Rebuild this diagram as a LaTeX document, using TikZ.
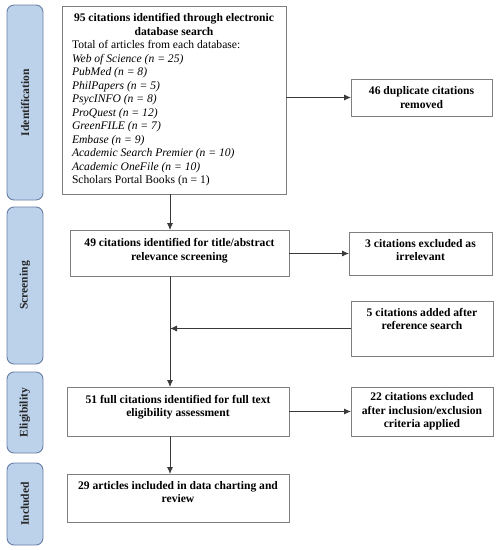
\documentclass[tikz,border=0pt]{standalone}
\usepackage{fontspec}
\setmainfont{Liberation Serif}
\usetikzlibrary{arrows.meta}
\definecolor{barfill}{HTML}{BCD2EB}
\definecolor{barline}{HTML}{6A7FA6}
\definecolor{boxline}{HTML}{7F7F7F}
\definecolor{arrline}{HTML}{3A3A3A}
\begin{document}
\begin{tikzpicture}[x=1pt,y=-1pt,
  every node/.style={font=\fontsize{11.6}{13.5}\selectfont, inner sep=0pt, outer sep=0pt},
  flowbox/.style={draw=boxline, line width=0.9pt, rectangle, align=center, font=\fontsize{11.6}{13.5}\selectfont\bfseries},
  sidebar/.style={draw=barline, fill=barfill, line width=0.9pt, rounded corners=7pt, minimum width=36pt, rotate=90, font=\fontsize{11.6}{13.5}\selectfont\bfseries, text=black!85},
  conn/.style={draw=arrline, line width=0.8pt},
  arr/.style={conn, -{Latex[length=7pt,width=6pt]}}]
\useasboundingbox (0,0) rectangle (496,550);
\fill[white] (0,0) rectangle (496,550);

% side bars
\node[sidebar, minimum width=195pt, minimum height=36pt] (sId) at (25,102.5) {Identification};
\node[sidebar, minimum width=157pt, minimum height=36pt] (sSc) at (25,285.5) {Screening};
\node[sidebar, minimum width=81pt, minimum height=36pt] (sEl) at (25,412.5) {Eligibility};
\node[sidebar, minimum width=82pt, minimum height=36pt] (sIn) at (25,504) {Included};

% main boxes
\node[flowbox, minimum width=224pt, minimum height=188pt, font=\fontsize{11.6}{13.5}\selectfont, align=left] (b1) at (174,100) {%
\makebox[204pt]{\bfseries 95 citations identified through electronic}\\
\makebox[204pt]{\bfseries database search}\\
Total of articles from each database:\\
\textit{Web of Science (n = 25)}\\
\textit{PubMed (n = 8)}\\
\textit{PhilPapers (n = 5)}\\
\textit{PsycINFO (n = 8)}\\
\textit{ProQuest (n = 12)}\\
\textit{GreenFILE (n = 7)}\\
\textit{Embase (n = 9)}\\
\textit{Academic Search Premier (n = 10)}\\
\textit{Academic OneFile (n = 10)}\\
Scholars Portal Books (n = 1)};
\node[flowbox, minimum width=219pt, minimum height=46pt] (b2) at (179.5,253) {49 citations identified for title/abstract\\relevance screening\\[-6.5pt]};
\node[flowbox, minimum width=222pt, minimum height=49pt] (b3) at (178,411.5) {51 full citations identified for full text\\eligibility assessment\\[-2pt]};
\node[flowbox, minimum width=222pt, minimum height=48pt] (b4) at (178,498) {29 articles included in data charting and\\review\\[-1pt]};

% side boxes
\node[flowbox, minimum width=141pt, minimum height=37pt] (dup) at (421.5,97.5) {46 duplicate citations\\removed};
\node[flowbox, minimum width=143pt, minimum height=43pt] (ex1) at (420.5,253.5) {3 citations excluded as\\irrelevant\\[-6.5pt]};
\node[flowbox, minimum width=142pt, minimum height=55pt] (add) at (422,328.5) {5 citations added after\\reference search\\[6pt]};
\node[flowbox, minimum width=142pt, minimum height=49pt] (ex2) at (422,411.5) {22 citations excluded\\after inclusion/exclusion\\criteria applied};

% spine
\coordinate (sp) at (170,0);

% connectors
\draw[arr] (b1.south -| sp) -- (b2.north -| sp);
\draw[arr] (b2.south -| sp) -- (b3.north -| sp);
\draw[arr] (b3.south -| sp) -- (b4.north -| sp);
\draw[arr] (b1.east |- dup.west) -- (dup.west);
\draw[arr] (b2.east |- ex1.west) -- (ex1.west);
\draw[arr] (b3.east |- ex2.west) -- (ex2.west);
\draw[arr] (add.west) -- (add.west -| sp);
\end{tikzpicture}
\end{document}
